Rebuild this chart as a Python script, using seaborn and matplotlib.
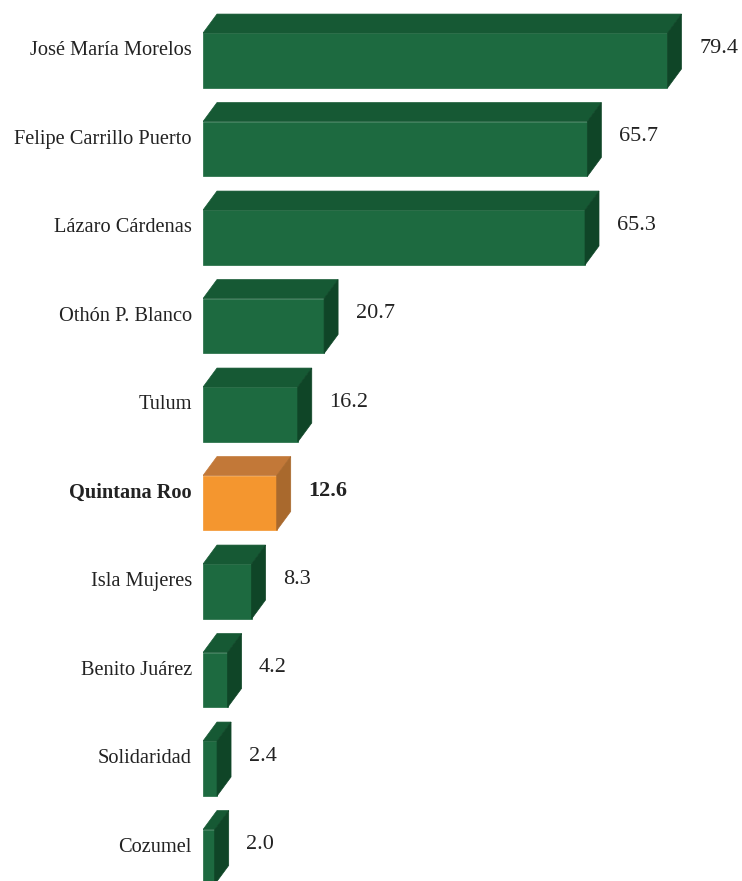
import numpy as np
import pandas as pd
import matplotlib.pyplot as plt
import seaborn as sns
from matplotlib.patches import Polygon

# data
municipios = ["José María Morelos", "Felipe Carrillo Puerto", "Lázaro Cárdenas",
              "Othón P. Blanco", "Tulum", "Quintana Roo", "Isla Mujeres",
              "Benito Juárez", "Solidaridad", "Cozumel"]
valores = [79.4, 65.7, 65.3, 20.7, 16.2, 12.6, 8.3, 4.2, 2.4, 2.0]
destacado = "Quintana Roo"

df = pd.DataFrame({"municipio": municipios, "valor": valores})

sns.set_theme(style="white")
plt.rcParams["font.family"] = ["Liberation Serif", "DejaVu Serif"]

# colours: front, top, side
verde = ("#1d6a40", "#165934", "#0f4527")
naranja = ("#f4962f", "#c27838", "#a9692d")
front_cols = [naranja[0] if m == destacado else verde[0] for m in municipios]

fig = plt.figure(figsize=(7.42, 8.81), dpi=100)
ax = fig.add_axes([203 / 742, 0, 539 / 742, 1])

bar_h = 0.62
sns.barplot(data=df, x="valor", y="municipio", hue="municipio",
            palette=front_cols, legend=False, width=bar_h, ax=ax,
            saturation=1, orient="h")
for p, c in zip(ax.patches, front_cols):
    p.set_edgecolor(c)
    p.set_linewidth(0.5)

px_x = 5.85          # pixels per unit on x
px_y = 88.5          # pixels per category
dx = 14 / px_x
dy = 19 / px_y

for i, (m, v) in enumerate(zip(municipios, valores)):
    cols = naranja if m == destacado else verde
    top = i - bar_h / 2
    bot = i + bar_h / 2
    ax.add_patch(Polygon([(0, top), (v, top), (v + dx, top - dy), (dx, top - dy)],
                         closed=True, facecolor=cols[1], edgecolor=cols[1], lw=0.5))
    ax.add_patch(Polygon([(v, top), (v + dx, top - dy), (v + dx, bot - dy), (v, bot)],
                         closed=True, facecolor=cols[2], edgecolor=cols[2], lw=0.5))
    w = "bold" if m == destacado else "normal"
    ax.text(v + dx + 3.0, i - 0.14, f"{v:.1f}", ha="left", va="center",
            fontsize=16, fontweight=w, color="#222222")
    ax.text(-1.9, i - 0.11, m, ha="right", va="center", fontsize=14.7,
            fontweight=w, color="#222222", clip_on=False)

ax.set_xlim(0, 539 / px_x)
ax.set_ylim((881 - 60.5) / px_y, -60.5 / px_y)
ax.axis("off")

plt.savefig("out.png", dpi=100)
